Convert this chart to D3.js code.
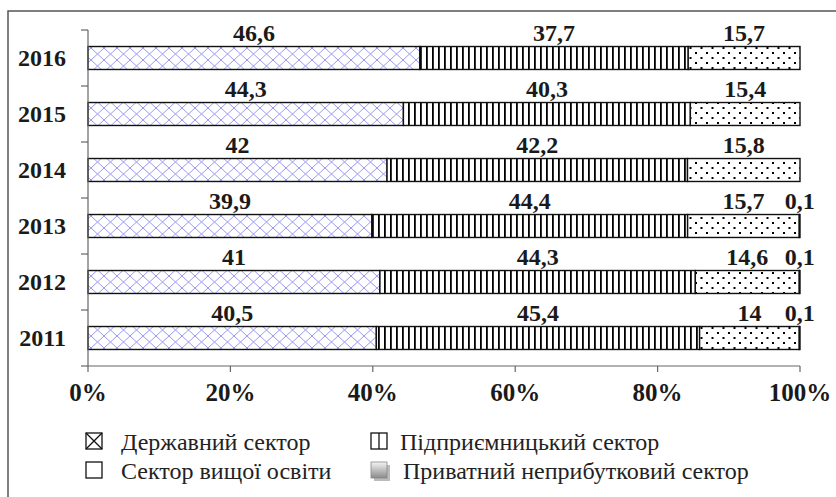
<!DOCTYPE html>
<html><head><meta charset="utf-8">
<script src="https://cdn.jsdelivr.net/npm/d3@7"></script>
<style>body{margin:0;background:#fff}</style>
</head><body>
<svg id="c" width="836" height="497"></svg>
<script>
const years = ["2011","2012","2013","2014","2015","2016"];
const stateSector = [40.5, 41, 39.9, 42, 44.3, 46.6];
const businessSector = [45.4, 44.3, 44.4, 42.2, 40.3, 37.7];
const higherEduSector = [14, 14.6, 15.7, 15.8, 15.4, 15.7];
const privateNonProfit = [0.1, 0.1, 0.1, null, null, null];
const xTicks = [0, 20, 40, 60, 80, 100];
const seriesNames = ["Державний сектор", "Підприємницький сектор", "Сектор вищої освіти", "Приватний неприбутковий сектор"];

const FONT = "Liberation Serif";
const svg = d3.select("#c");
const defs = svg.append("defs");
const p1 = defs.append("pattern").attr("id","cross").attr("patternUnits","userSpaceOnUse").attr("width",13).attr("height",12);
p1.append("rect").attr("width",13).attr("height",12).attr("fill","#fff");
p1.append("path").attr("d","M0,0L13,12M13,0L0,12").attr("stroke","#9a9af5").attr("stroke-width",1);
const p2 = defs.append("pattern").attr("id","vert").attr("patternUnits","userSpaceOnUse").attr("width",6).attr("height",6);
p2.append("rect").attr("width",6).attr("height",6).attr("fill","#fff");
p2.append("rect").attr("x",0).attr("width",1.8).attr("height",6).attr("fill","#000");
const p3 = defs.append("pattern").attr("id","dots").attr("patternUnits","userSpaceOnUse").attr("width",11).attr("height",10);
p3.append("rect").attr("width",11).attr("height",10).attr("fill","#fff");
p3.append("rect").attr("x",2).attr("y",2).attr("width",2).attr("height",2).attr("fill","#000");
p3.append("rect").attr("x",7.5).attr("y",7).attr("width",2).attr("height",2).attr("fill","#000");
const g4 = defs.append("linearGradient").attr("id","gray").attr("x1",0).attr("y1",0).attr("x2",0).attr("y2",1);
g4.append("stop").attr("offset",0).attr("stop-color","#f4f4f4");
g4.append("stop").attr("offset",1).attr("stop-color","#8a8a8a");

svg.append("rect").attr("x",8).attr("y",11).attr("width",840).attr("height",500)
  .attr("fill","none").attr("stroke","#555").attr("stroke-width",1.5);

const x = d3.scaleLinear().domain([0,100]).range([88,800]);
const y = d3.scaleBand().domain(years.slice().reverse()).range([30,366]).paddingInner(0.59).paddingOuter(0.295);
const bandStep = y.step();

const fills = ["url(#cross)","url(#vert)","url(#dots)","url(#gray)"];
const data = years.map((yr,i)=>{
  const vals = [stateSector[i], businessSector[i], higherEduSector[i], privateNonProfit[i]];
  const total = d3.sum(vals.map(v=>v||0));
  let acc = 0;
  return vals.map((v,k)=>{
    const s = acc/total*100; acc += (v||0); const e = acc/total*100;
    return {yr, k, v, s, e};
  });
}).flat();

svg.append("g").selectAll("rect").data(data.filter(d=>d.v)).join("rect")
  .attr("x",d=>x(d.s)).attr("width",d=>x(d.e)-x(d.s))
  .attr("y",d=>y(d.yr)).attr("height",y.bandwidth())
  .attr("fill",d=>fills[d.k]).attr("stroke","#111").attr("stroke-width",1.4);

svg.append("g").selectAll("text").data(data.filter(d=>d.v)).join("text")
  .attr("x",d=>x((d.s+d.e)/2)).attr("y",d=>y(d.yr)-6)
  .attr("text-anchor","middle")
  .style("font-family",FONT).attr("font-weight","bold").attr("font-size",24)
  .attr("fill","#1a1a1a")
  .text(d=>String(d.v).replace(".",","));

const ax = svg.append("g").attr("stroke","#666").attr("stroke-width",1.2).attr("fill","none");
ax.append("line").attr("x1",88).attr("x2",800).attr("y1",366).attr("y2",366);
ax.selectAll(".xt").data(xTicks).join("line").attr("x1",d=>x(d)).attr("x2",d=>x(d)).attr("y1",366).attr("y2",372);
ax.append("line").attr("x1",88).attr("x2",88).attr("y1",30).attr("y2",366);
const yb = d3.range(years.length+1).map(i=>30 + i*bandStep);
ax.selectAll(".yt").data(yb).join("line").attr("x1",81).attr("x2",88).attr("y1",d=>d).attr("y2",d=>d);

svg.append("g").selectAll("text").data(xTicks).join("text")
  .attr("x",d=>x(d)).attr("y",401).attr("text-anchor","middle")
  .style("font-family",FONT).attr("font-weight","bold").attr("font-size",25).attr("fill","#1a1a1a")
  .text(d=>d+"%");

svg.append("g").selectAll("text").data(years).join("text")
  .attr("x",66).attr("y",d=>y(d)+y.bandwidth()/2).attr("dy","0.35em").attr("text-anchor","end")
  .style("font-family",FONT).attr("font-weight","bold").attr("font-size",24).attr("fill","#1a1a1a")
  .text(d=>d);

const leg = svg.append("g");
const items = [
  {name:seriesNames[0], bx:86, by:433, tx:121},
  {name:seriesNames[1], bx:371, by:433, tx:400},
  {name:seriesNames[2], bx:86, by:462, tx:121},
  {name:seriesNames[3], bx:371, by:462, tx:403}
];
items.forEach((it,i)=>{
  const g = leg.append("g");
  if(i===3){
    g.append("rect").attr("x",it.bx+3).attr("y",it.by+3).attr("width",16).attr("height",16).attr("fill","#bbb");
    g.append("rect").attr("x",it.bx).attr("y",it.by).attr("width",16).attr("height",16).attr("fill","url(#gray)").attr("stroke","#888").attr("stroke-width",0.8);
  } else {
    g.append("rect").attr("x",it.bx).attr("y",it.by).attr("width",16).attr("height",16).attr("fill","#fff").attr("stroke","#111").attr("stroke-width",1.3);
  }
  if(i===0) g.append("path").attr("d",`M${it.bx},${it.by}L${it.bx+16},${it.by+16}M${it.bx+16},${it.by}L${it.bx},${it.by+16}`).attr("stroke","#111").attr("stroke-width",1.3);
  if(i===1) g.append("line").attr("x1",it.bx+8).attr("x2",it.bx+8).attr("y1",it.by).attr("y2",it.by+16).attr("stroke","#111").attr("stroke-width",1.3);
  g.append("text").attr("x",it.tx).attr("y",it.by+17)
    .style("font-family",FONT).attr("font-size",24).attr("fill","#222").text(it.name);
});
</script>
</body></html>
